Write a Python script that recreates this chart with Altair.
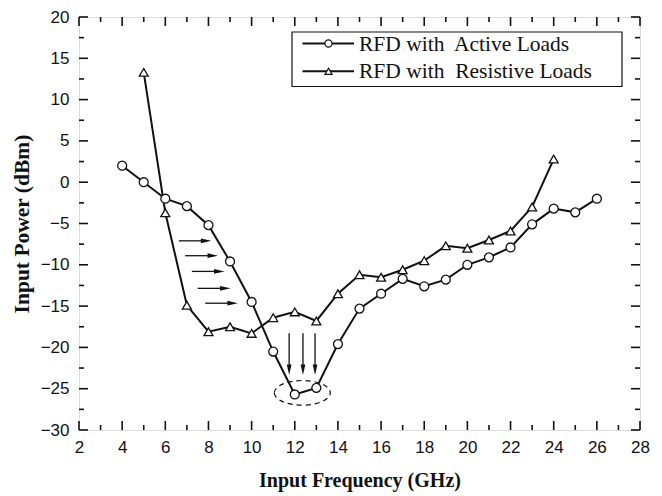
import altair as alt
import pandas as pd

# ---- data ----
freq_active = [4, 5, 6, 7, 8, 9, 10, 11, 12, 13, 14, 15, 16, 17, 18, 19, 20, 21, 22, 23, 24, 25, 26]
pow_active = [2.0, 0.0, -2.0, -2.9, -5.2, -9.6, -14.5, -20.5, -25.7, -24.9, -19.6, -15.3,
              -13.5, -11.7, -12.6, -11.8, -10.0, -9.1, -7.9, -5.1, -3.2, -3.65, -2.0]
freq_resist = [5, 6, 7, 8, 9, 10, 11, 12, 13, 14, 15, 16, 17, 18, 19, 20, 21, 22, 23, 24]
pow_resist = [13.3, -3.7, -14.9, -18.1, -17.5, -18.3, -16.4, -15.7, -16.8, -13.5, -11.2,
              -11.5, -10.6, -9.5, -7.7, -8.0, -7.0, -5.9, -3.0, 2.8]
series_names = ["RFD with Active Loads", "RFD with Resistive Loads"]
legend_labels = ["RFD with\u00a0 Active Loads", "RFD with\u00a0 Resistive Loads"]

# annotation arrows (data units)
harrow_y = [-7.1, -8.9, -10.8, -12.85, -14.65]
harrow_x1 = [6.63, 6.92, 7.23, 7.5, 7.85]
harrow_x2 = [7.89, 8.2, 8.5, 8.78, 9.12]
varrow_x = [11.74, 12.38, 12.94]
varrow_y1 = [-18.3, -18.3, -18.3]
varrow_y2 = [-22.7, -22.7, -22.7]
ellipse_x = [12.35]
ellipse_y = [-25.5]

x_major = list(range(2, 29, 2))
x_minor = list(range(3, 28, 2))
y_major = list(range(-30, 21, 5))
y_minor = [v + 2.5 for v in range(-30, 20, 5)]

W, H = 561, 413

df = pd.concat([
    pd.DataFrame({"freq": freq_active, "power": pow_active, "series": series_names[0]}),
    pd.DataFrame({"freq": freq_resist, "power": pow_resist, "series": series_names[1]}),
])

xs = alt.Scale(domain=[2, 28], nice=False, zero=False)
ys = alt.Scale(domain=[-30, 20], nice=False, zero=False)

black = "#111111"

xaxis = alt.Axis(values=x_major, domain=False, ticks=False, tickSize=0, grid=False, labelFlush=False,
                 labelFont="Liberation Sans", labelFontSize=17, labelColor=black, labelPadding=9,
                 title="Input Frequency (GHz)", titleFont="Liberation Serif", titleFontSize=20,
                 titleFontWeight="bold", titleColor=black, titleY=56, titleBaseline="alphabetic")
yaxis = alt.Axis(values=y_major, domain=False, ticks=False, tickSize=0, grid=False, labelFlush=False,
                 labelFont="Liberation Sans", labelFontSize=17, labelColor=black, labelPadding=10,
                 title="Input Power (dBm)", titleFont="Liberation Serif", titleFontSize=21.5,
                 titleFontWeight="bold", titleColor=black, titleX=-57, titleY=H / 2,
                 titleAngle=270, titleBaseline="middle", titleAlign="center")

base = alt.Chart(df)

lines = base.mark_line(color=black, strokeWidth=2).encode(
    x=alt.X("freq:Q", scale=xs, axis=xaxis),
    y=alt.Y("power:Q", scale=ys, axis=yaxis),
    detail="series:N",
)

points = base.mark_point(filled=True, fill="white", stroke=black, strokeWidth=1.3, size=80, opacity=1).encode(
    x=alt.X("freq:Q", scale=xs),
    y=alt.Y("power:Q", scale=ys),
    shape=alt.Shape("series:N", scale=alt.Scale(domain=series_names, range=["circle", "triangle-up"]), legend=None),
)

# ticks (inward) on all four sides
def ticks_x(vals, length):
    d = pd.DataFrame({"t": vals})
    bottom = alt.Chart(d).mark_rule(color=black, strokeWidth=1.6).encode(
        x=alt.X("t:Q", scale=xs), y=alt.value(H), y2=alt.value(H - length))
    top = alt.Chart(d).mark_rule(color=black, strokeWidth=1.6).encode(
        x=alt.X("t:Q", scale=xs), y=alt.value(0), y2=alt.value(length))
    return [bottom, top]

def ticks_y(vals, length):
    d = pd.DataFrame({"t": vals})
    left = alt.Chart(d).mark_rule(color=black, strokeWidth=1.6).encode(
        y=alt.Y("t:Q", scale=ys), x=alt.value(0), x2=alt.value(length))
    right = alt.Chart(d).mark_rule(color=black, strokeWidth=1.6).encode(
        y=alt.Y("t:Q", scale=ys), x=alt.value(W), x2=alt.value(W - length))
    return [left, right]

tick_layers = ticks_x(x_major, 9) + ticks_x(x_minor, 5) + ticks_y(y_major, 9) + ticks_y(y_minor, 5)

# arrows
hdf = pd.DataFrame({"x1": harrow_x1, "x2": harrow_x2, "y": harrow_y})
harrows = alt.Chart(hdf).mark_rule(color=black, strokeWidth=1.3).encode(
    x=alt.X("x1:Q", scale=xs), x2="x2:Q", y=alt.Y("y:Q", scale=ys))
hheads = alt.Chart(hdf).mark_point(shape="M-1,-0.45L1,0L-1,0.45Z", filled=True, color=black, size=110, opacity=1).encode(
    x=alt.X("x2:Q", scale=xs), y=alt.Y("y:Q", scale=ys))

vdf = pd.DataFrame({"x": varrow_x, "y1": varrow_y1, "y2": varrow_y2})
varrows = alt.Chart(vdf).mark_rule(color=black, strokeWidth=1.3).encode(
    x=alt.X("x:Q", scale=xs), y=alt.Y("y1:Q", scale=ys), y2="y2:Q")
vheads = alt.Chart(vdf).mark_point(shape="M-0.45,-1L0,1L0.45,-1Z", filled=True, color=black, size=110, opacity=1).encode(
    x=alt.X("x:Q", scale=xs), y=alt.Y("y2:Q", scale=ys))

edf = pd.DataFrame({"x": ellipse_x, "y": ellipse_y})
ellipse = alt.Chart(edf).mark_point(
    shape="M-1,0A1,0.44,0,1,1,1,0A1,0.44,0,1,1,-1,0Z", filled=False, stroke=black,
    strokeWidth=1.2, strokeDash=[5, 4], size=3136, opacity=1).encode(
    x=alt.X("x:Q", scale=xs), y=alt.Y("y:Q", scale=ys))

# legend (manual)
ldf = pd.DataFrame({"label": legend_labels, "shape": ["circle", "triangle-up"]})
leg_box = alt.Chart(ldf.head(1)).mark_rect(fill="white", stroke=black, strokeWidth=1.2).encode(
    x=alt.value(213), x2=alt.value(543), y=alt.value(15), y2=alt.value(69.5))
leg_layers = [leg_box]
row_y = [26.5, 54.3]
for i, lab in enumerate(legend_labels):
    d = ldf.iloc[[i]]
    leg_layers.append(alt.Chart(d).mark_rule(color=black, strokeWidth=2).encode(
        x=alt.value(223.5), x2=alt.value(275), y=alt.value(row_y[i])))
    leg_layers.append(alt.Chart(d).mark_point(filled=True, fill="white", stroke=black, strokeWidth=1.2,
                                              size=50, opacity=1, shape=d["shape"].iloc[0]).encode(
        x=alt.value(249.5), y=alt.value(row_y[i])))
    leg_layers.append(alt.Chart(d).mark_text(align="left", baseline="middle", font="Liberation Serif",
                                             fontSize=21.5, color=black).encode(
        x=alt.value(280), y=alt.value(row_y[i] + 1), text="label:N"))

chart = alt.layer(
    *tick_layers, lines, harrows, hheads, varrows, vheads, ellipse, points, *leg_layers
).properties(
    width=W, height=H,
    autosize=alt.AutoSizeParams(type="none"),
    padding={"left": 71, "top": 9, "right": 14, "bottom": 63},
).configure_view(stroke=black, strokeWidth=2).configure(background="white")

chart.save("out.html", embed_options={"renderer": "svg", "actions": False})
